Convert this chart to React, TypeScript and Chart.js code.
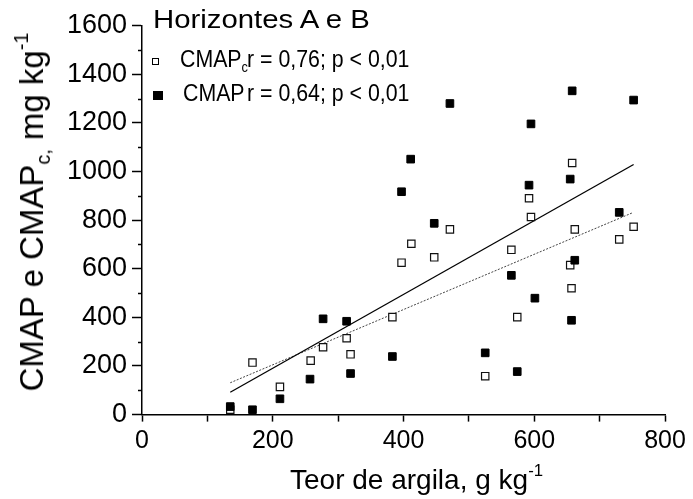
import React, { useEffect, useRef } from "react";
import { Chart, registerables } from "chart.js";

Chart.register(...registerables);

// Teor de argila (g/kg) for CMAP (filled squares)
const cmapX = [135, 169, 211, 257, 277, 313, 319, 383, 397, 411, 447, 471, 525, 565, 574, 592, 595, 601, 655, 657, 658, 662, 730, 752];
const cmapY = [33, 20, 65, 146, 394, 384, 169, 239, 917, 1051, 787, 1280, 254, 573, 177, 944, 1196, 479, 969, 388, 1332, 635, 832, 1294];

// Teor de argila (g/kg) for CMAPc (open squares)
const cmapcX = [135, 169, 211, 258, 277, 313, 319, 383, 397, 412, 447, 471, 525, 565, 574, 592, 595, 655, 657, 658, 662, 730, 752];
const cmapcY = [20, 214, 114, 222, 277, 314, 248, 401, 625, 703, 647, 762, 158, 678, 401, 890, 813, 615, 520, 1035, 762, 721, 773];

// Regression line endpoints
const cmapTrendX = [135, 752];
const cmapTrendY = [92, 1029];
const cmapcTrendX = [135, 750];
const cmapcTrendY = [131, 830];

const xTicks = [0, 200, 400, 600, 800];
const yMinorTicks = [100, 300, 500, 700, 900, 1100, 1300, 1500];

const FONT = '"Liberation Sans", Arial, sans-serif';

const toPts = (xs: number[], ys: number[]) => xs.map((x, i) => ({ x, y: ys[i] }));

const minorTickPlugin = {
  id: "minorTicks",
  afterDraw(chart: any) {
    const ctx = chart.ctx;
    const ys = chart.scales.y;
    const left = chart.chartArea.left;
    ctx.save();
    ctx.strokeStyle = "#000";
    ctx.lineWidth = 1.5;
    yMinorTicks.forEach((v) => {
      const py = Math.round(ys.getPixelForValue(v)) + 0.5;
      ctx.beginPath();
      ctx.moveTo(left - 4, py);
      ctx.lineTo(left, py);
      ctx.stroke();
    });
    ctx.restore();
  },
};

export default function App() {
  const ref = useRef<HTMLCanvasElement | null>(null);

  useEffect(() => {
    document.body.style.margin = "0";
    const chart = new Chart(ref.current as HTMLCanvasElement, {
      type: "scatter",
      data: {
        datasets: [
          {
            label: "CMAP",
            data: toPts(cmapX, cmapY),
            pointStyle: "rect",
            pointRadius: 5.4,
            backgroundColor: "#000",
            borderColor: "#000",
            borderWidth: 1,
            order: 1,
          },
          {
            label: "CMAPc",
            data: toPts(cmapcX, cmapcY),
            pointStyle: "rect",
            pointRadius: 5.2,
            backgroundColor: "#fff",
            borderColor: "#111",
            borderWidth: 1.2,
            order: 2,
          },
          {
            label: "CMAP fit",
            data: toPts(cmapTrendX, cmapTrendY),
            showLine: true,
            pointRadius: 0,
            borderColor: "#000",
            borderWidth: 1.3,
            order: 3,
          },
          {
            label: "CMAPc fit",
            data: toPts(cmapcTrendX, cmapcTrendY),
            showLine: true,
            pointRadius: 0,
            borderColor: "#444",
            borderWidth: 1,
            borderDash: [2, 1.5],
            order: 4,
          },
        ],
      },
      options: {
        responsive: false,
        animation: false,
        devicePixelRatio: 1,
        layout: { padding: { left: 0, right: 28, top: 25.7, bottom: 0 } },
        plugins: { legend: { display: false }, tooltip: { enabled: false }, title: { display: false } },
        scales: {
          x: {
            type: "linear",
            min: 0,
            max: 800,
            afterFit: (s: any) => {
              s.height = 84.4;
            },
            ticks: {
              stepSize: 100,
              autoSkip: false,
              maxRotation: 0,
              color: "#000",
              padding: 5,
              font: { family: FONT, size: 25 },
              callback: (v: any) => (xTicks.includes(Number(v)) ? String(v) : ""),
            },
            grid: { drawOnChartArea: false, drawTicks: true, tickLength: 7, tickColor: "#000", tickWidth: 1.5 },
            border: { display: true, color: "#000", width: 1.5 },
          },
          y: {
            type: "linear",
            min: 0,
            max: 1600,
            afterFit: (s: any) => {
              s.width = 142;
            },
            ticks: {
              stepSize: 200,
              color: "#000",
              padding: 5,
              font: { family: FONT, size: 27 },
              callback: (v: any) => String(v),
            },
            grid: { drawOnChartArea: false, drawTicks: true, tickLength: 10, tickColor: "#000", tickWidth: 1.5 },
            border: { display: true, color: "#000", width: 1.5 },
          },
        },
      },
      plugins: [minorTickPlugin],
    });
    return () => chart.destroy();
  }, []);

  const sub: React.CSSProperties = { fontSize: "0.6em", position: "relative", top: "0.35em" };
  const sup: React.CSSProperties = { fontSize: "0.6em", position: "relative", top: "-0.75em" };
  const abs = (left: number, top: number, size: number, sx = 1): React.CSSProperties => ({
    position: "absolute",
    left,
    top,
    fontFamily: FONT,
    fontSize: size,
    lineHeight: `${size}px`,
    whiteSpace: "nowrap",
    color: "#000",
    transform: sx !== 1 ? `scaleX(${sx})` : undefined,
    transformOrigin: "left top",
  });

  // baseline = top + 0.8465 * size
  return (
    <div style={{ position: "fixed", left: 0, top: 0, width: 693, height: 499, background: "#fff" }}>
      <canvas ref={ref} width={693} height={499} style={{ position: "absolute", left: 0, top: 0 }} />
      <div style={abs(153, 28 - 0.8465 * 26, 26, 1.128)}>Horizontes A e B</div>
      <div
        style={{ position: "absolute", left: 151.5, top: 57.5, width: 7.5, height: 7.5, border: "1px solid #000", boxSizing: "border-box", background: "#fff" }}
      />
      <div style={abs(180, 68.3 - 0.8465 * 23.7, 23.7, 0.9)}>
        CMAP<span style={sub}>c</span>
      </div>
      <div style={abs(247, 68.3 - 0.8465 * 23.7, 23.7, 0.9)}>r = 0,76; p &lt; 0,01</div>
      <div style={{ position: "absolute", left: 153.3, top: 90.8, width: 9.6, height: 9.6, background: "#000" }} />
      <div style={abs(183, 101.7 - 0.8465 * 23.7, 23.7, 0.9)}>CMAP</div>
      <div style={abs(247, 101.7 - 0.8465 * 23.7, 23.7, 0.9)}>r = 0,64; p &lt; 0,01</div>
      <div style={abs(290, 489.3 - 0.8465 * 28, 28)}>
        Teor de argila, g kg<span style={sup}>-1</span>
      </div>
      <div
        style={{
          ...abs(33.6, 212, 33),
          transform: "translate(-50%, -50%) rotate(-90deg)",
          transformOrigin: "center center",
        }}
      >
        CMAP e CMAP<span style={sub}>c,</span> mg kg<span style={sup}>-1</span>
      </div>
    </div>
  );
}
